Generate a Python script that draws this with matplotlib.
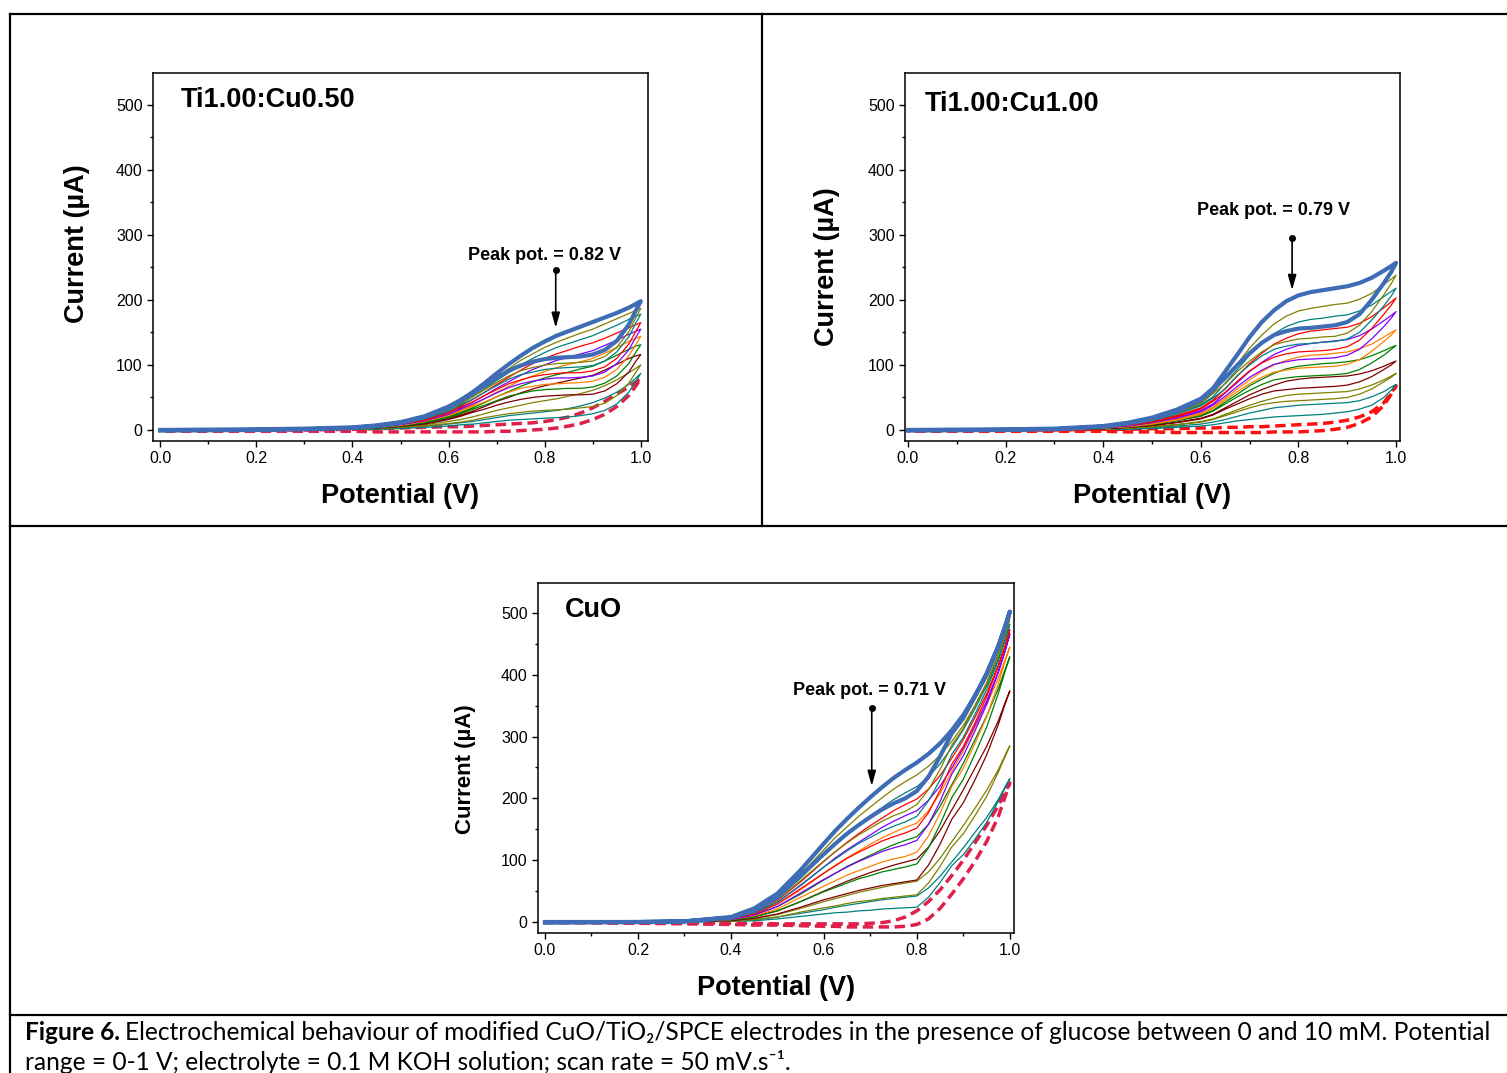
import numpy as np
import matplotlib.pyplot as plt
from matplotlib.lines import Line2D

plt.rcParams['font.family'] = ['Liberation Sans', 'DejaVu Sans']

# potential grid (V) used for every scan, forward and reverse
E = [0.0, 0.2, 0.3, 0.4, 0.45, 0.5, 0.55, 0.6, 0.625, 0.65, 0.675, 0.7, 0.725,
     0.75, 0.775, 0.8, 0.825, 0.85, 0.875, 0.9, 0.925, 0.95, 0.975, 0.99, 1.0]

# glucose concentration of each row (mM), blank first
conc = [0, 1, 2, 3, 4, 5, 6, 7, 8, 9, 10]

# ---- Ti1.00:Cu0.50, current in uA ----
a_fwd = [
    [0, 0, 0, 1, 2, 3, 4, 5, 5, 6, 7, 8, 9, 10, 11, 13, 16, 20, 26, 34, 44, 55, 66, 74, 79],
    [0, 0, 1, 1, 2, 4, 6, 9, 11, 13, 16, 19, 22, 24, 26, 28, 30, 33, 37, 42, 49, 58, 70, 80, 87],
    [0, 1, 1, 2, 3, 5, 8, 13, 16, 20, 25, 30, 34, 38, 42, 45, 48, 52, 56, 61, 68, 77, 88, 95, 100],
    [0, 1, 2, 2, 3, 6, 11, 18, 23, 29, 36, 44, 50, 57, 63, 68, 72, 76, 80, 84, 92, 101, 110, 114, 116],
    [0, 1, 2, 2, 4, 7, 12, 21, 27, 34, 42, 51, 59, 67, 74, 80, 85, 89, 94, 98, 106, 115, 124, 129, 131],
    [0, 1, 2, 3, 5, 8, 14, 24, 31, 38, 48, 58, 67, 76, 83, 90, 96, 101, 105, 110, 118, 127, 136, 141, 144],
    [0, 1, 2, 3, 5, 9, 16, 27, 34, 43, 53, 64, 74, 84, 93, 100, 107, 112, 117, 122, 130, 138, 147, 152, 155],
    [0, 1, 2, 3, 6, 10, 17, 29, 37, 47, 58, 70, 81, 92, 102, 110, 117, 123, 129, 134, 141, 149, 157, 162, 165],
    [0, 1, 2, 4, 6, 11, 18, 32, 40, 51, 63, 76, 88, 100, 110, 119, 127, 133, 139, 145, 153, 161, 170, 175, 178],
    [0, 1, 2, 4, 6, 11, 20, 34, 43, 54, 67, 81, 94, 107, 117, 127, 135, 142, 149, 155, 163, 171, 179, 184, 187],
    [0, 1, 2, 4, 7, 12, 21, 36, 46, 58, 72, 87, 101, 114, 126, 136, 145, 152, 159, 166, 173, 180, 188, 194, 198],
]
a_rev = [
    [-2, -2, -2, -2, -3, -3, -3, -3, -3, -3, -3, -2, -2, -1, 0, 1, 3, 6, 10, 16, 24, 36, 53, 68, 79],
    [-1, 0, 0, 1, 1, 2, 4, 6, 8, 9, 11, 13, 15, 16, 17, 18, 19, 20, 22, 25, 30, 40, 58, 75, 87],
    [-1, 0, 1, 1, 2, 4, 6, 10, 12, 15, 19, 22, 25, 27, 29, 30, 31, 32, 34, 36, 41, 53, 72, 89, 100],
    [-1, 0, 1, 2, 3, 5, 9, 16, 21, 27, 32, 38, 43, 47, 50, 52, 53, 54, 54, 55, 60, 71, 89, 106, 116],
    [-1, 0, 1, 2, 3, 6, 11, 19, 25, 32, 38, 45, 52, 56, 60, 62, 63, 64, 64, 66, 72, 83, 102, 120, 131],
    [-1, 0, 1, 2, 4, 7, 13, 22, 29, 36, 43, 51, 58, 64, 67, 70, 71, 72, 73, 75, 81, 93, 114, 132, 144],
    [-1, 0, 1, 2, 4, 8, 14, 24, 32, 40, 48, 57, 65, 71, 75, 78, 80, 80, 81, 83, 89, 102, 123, 143, 155],
    [-1, 0, 1, 3, 5, 9, 15, 26, 35, 43, 53, 62, 71, 77, 82, 85, 87, 88, 88, 91, 97, 110, 132, 152, 165],
    [-1, 0, 1, 3, 5, 9, 17, 29, 38, 47, 58, 68, 78, 85, 89, 93, 95, 96, 97, 99, 106, 120, 143, 165, 178],
    [-1, 0, 1, 3, 6, 10, 18, 31, 41, 51, 62, 73, 83, 91, 96, 100, 102, 103, 104, 106, 113, 127, 151, 173, 187],
    [-1, 0, 1, 3, 6, 11, 20, 34, 45, 56, 68, 80, 91, 99, 105, 109, 111, 112, 113, 116, 123, 137, 162, 184, 198],
]

# ---- Ti1.00:Cu1.00 ----
b_fwd = [
    [0, 0, 0, 1, 1, 2, 2, 3, 3, 4, 4, 5, 5, 6, 7, 8, 9, 10, 12, 15, 20, 28, 42, 57, 68],
    [0, 0, 1, 1, 2, 4, 6, 9, 12, 16, 21, 26, 30, 34, 36, 38, 39, 40, 41, 42, 45, 51, 59, 66, 70],
    [0, 1, 1, 2, 3, 5, 8, 13, 17, 24, 31, 38, 44, 49, 53, 55, 56, 57, 58, 59, 63, 69, 77, 83, 87],
    [0, 1, 2, 2, 4, 7, 12, 18, 24, 34, 44, 54, 62, 69, 75, 78, 80, 81, 82, 83, 86, 91, 98, 103, 106],
    [0, 1, 2, 3, 5, 9, 15, 23, 30, 43, 55, 68, 78, 87, 94, 98, 100, 102, 103, 105, 108, 114, 122, 127, 130],
    [0, 1, 2, 3, 6, 10, 17, 26, 35, 49, 63, 77, 90, 100, 107, 112, 115, 116, 118, 120, 125, 132, 143, 150, 154],
    [0, 1, 2, 4, 7, 12, 20, 30, 40, 57, 73, 90, 104, 116, 124, 130, 133, 135, 137, 139, 145, 155, 168, 176, 182],
    [0, 1, 2, 4, 8, 14, 22, 34, 46, 64, 83, 102, 118, 132, 141, 148, 152, 154, 156, 158, 164, 174, 188, 197, 203],
    [0, 1, 2, 5, 9, 15, 25, 39, 51, 72, 93, 115, 133, 148, 159, 166, 170, 172, 175, 177, 183, 192, 205, 213, 218],
    [0, 1, 2, 5, 10, 17, 27, 42, 57, 80, 102, 126, 146, 163, 175, 183, 187, 190, 193, 195, 201, 210, 224, 232, 238],
    [0, 1, 2, 6, 11, 19, 31, 48, 64, 90, 116, 143, 166, 184, 198, 207, 212, 215, 218, 221, 226, 234, 245, 252, 257],
]
b_rev = [
    [-2, -2, -2, -2, -3, -3, -4, -4, -4, -4, -4, -4, -4, -3, -3, -3, -2, -1, 1, 4, 10, 20, 38, 55, 68],
    [-1, 0, 0, 1, 1, 2, 4, 6, 8, 11, 14, 16, 18, 20, 21, 22, 23, 24, 26, 28, 32, 38, 50, 61, 70],
    [-1, 0, 1, 1, 3, 5, 8, 12, 16, 22, 28, 34, 39, 42, 44, 45, 46, 47, 48, 50, 55, 63, 74, 81, 87],
    [-1, 0, 1, 2, 4, 7, 11, 17, 23, 32, 40, 48, 55, 60, 62, 64, 65, 66, 67, 69, 74, 82, 93, 100, 106],
    [-1, 0, 1, 3, 5, 8, 14, 21, 29, 40, 51, 61, 70, 77, 80, 82, 83, 84, 85, 87, 93, 103, 115, 124, 130],
    [-1, 0, 1, 3, 5, 9, 15, 24, 33, 46, 59, 71, 81, 89, 92, 95, 96, 97, 98, 101, 108, 121, 136, 146, 154],
    [-1, 0, 1, 3, 6, 11, 18, 28, 38, 52, 67, 81, 92, 101, 105, 108, 109, 110, 111, 115, 124, 140, 159, 172, 182],
    [-1, 0, 1, 4, 7, 12, 20, 32, 44, 58, 75, 91, 103, 112, 117, 120, 121, 122, 124, 128, 138, 156, 178, 192, 203],
    [-1, 0, 1, 4, 8, 14, 24, 37, 49, 63, 84, 100, 114, 124, 129, 132, 133, 135, 136, 140, 150, 169, 191, 206, 218],
    [-1, 0, 1, 4, 9, 15, 25, 41, 56, 71, 90, 106, 120, 131, 136, 140, 141, 143, 144, 149, 161, 182, 208, 225, 238],
    [-1, 0, 1, 5, 10, 17, 28, 46, 62, 80, 100, 118, 134, 146, 152, 156, 157, 159, 161, 166, 178, 200, 226, 243, 257],
]

# ---- CuO ----
c_fwd = [
    [0, -1, -1, -2, -2, -3, -3, -3, -3, -3, -3, -2, -1, 2, 8, 18, 33, 52, 75, 100, 128, 156, 188, 210, 225],
    [0, 0, 0, 2, 4, 8, 14, 20, 24, 27, 30, 33, 36, 38, 40, 42, 55, 74, 97, 120, 145, 169, 198, 219, 232],
    [0, 0, 1, 2, 6, 12, 22, 33, 38, 43, 48, 52, 56, 60, 63, 66, 81, 103, 130, 156, 184, 213, 246, 270, 285],
    [0, 0, 1, 3, 9, 18, 33, 50, 58, 66, 73, 80, 86, 92, 97, 102, 121, 148, 181, 214, 249, 284, 325, 355, 374],
    [0, 0, 1, 4, 12, 25, 45, 68, 79, 90, 99, 108, 117, 125, 132, 138, 158, 187, 222, 257, 295, 333, 377, 409, 429],
    [0, 0, 1, 5, 14, 29, 52, 79, 92, 104, 115, 126, 136, 145, 153, 160, 180, 208, 243, 277, 314, 351, 394, 425, 445],
    [0, 0, 1, 6, 15, 32, 59, 89, 104, 117, 129, 141, 153, 163, 172, 180, 197, 220, 249, 281, 318, 357, 405, 440, 466],
    [0, 0, 1, 6, 17, 35, 65, 98, 114, 129, 143, 156, 168, 180, 190, 199, 215, 237, 265, 295, 331, 369, 415, 447, 473],
    [0, 0, 1, 7, 19, 39, 71, 108, 126, 142, 157, 172, 185, 198, 209, 219, 235, 256, 282, 311, 345, 382, 427, 458, 482],
    [0, 0, 1, 7, 20, 42, 77, 117, 137, 154, 171, 186, 201, 215, 227, 238, 252, 270, 292, 318, 350, 387, 433, 466, 491],
    [0, 0, 1, 8, 22, 46, 84, 127, 148, 167, 185, 202, 218, 233, 246, 258, 272, 289, 310, 335, 366, 402, 446, 478, 502],
]
c_rev = [
    [-1, -2, -3, -4, -5, -5, -6, -7, -7, -8, -8, -8, -8, -8, -7, -4, 5, 22, 45, 70, 98, 130, 170, 203, 225],
    [-1, 0, 0, 1, 2, 5, 9, 13, 15, 16, 18, 19, 21, 22, 23, 24, 40, 64, 91, 109, 134, 161, 195, 217, 232],
    [-1, 0, 1, 1, 4, 8, 16, 23, 26, 30, 33, 35, 38, 40, 42, 44, 63, 90, 121, 143, 172, 203, 242, 268, 285],
    [-1, 0, 1, 2, 6, 13, 24, 36, 41, 46, 51, 55, 59, 62, 65, 68, 92, 126, 166, 193, 230, 270, 319, 353, 374],
    [-1, 0, 1, 3, 8, 18, 33, 49, 56, 63, 70, 75, 81, 85, 89, 94, 120, 158, 201, 231, 272, 315, 369, 406, 429],
    [-1, 0, 1, 4, 10, 21, 40, 58, 67, 76, 83, 90, 97, 102, 106, 113, 139, 176, 219, 249, 289, 332, 385, 422, 445],
    [-1, 0, 1, 4, 11, 25, 47, 69, 79, 89, 98, 106, 114, 120, 125, 132, 158, 195, 239, 269, 309, 352, 403, 438, 466],
    [-1, 0, 1, 5, 13, 29, 54, 79, 91, 103, 113, 122, 131, 138, 144, 152, 177, 213, 255, 284, 322, 364, 413, 446, 473],
    [-1, 0, 1, 6, 15, 32, 60, 89, 102, 115, 127, 137, 147, 155, 162, 171, 196, 230, 271, 299, 336, 376, 422, 455, 482],
    [-1, 0, 1, 6, 16, 36, 67, 99, 114, 128, 141, 152, 163, 172, 179, 190, 214, 247, 286, 313, 350, 385, 430, 463, 491],
    [-1, 0, 1, 7, 18, 40, 75, 110, 127, 143, 157, 170, 182, 192, 200, 212, 235, 268, 305, 330, 365, 400, 445, 478, 502],
]

titles = ["Ti1.00:Cu0.50", "Ti1.00:Cu1.00", "CuO"]
peaks = ["Peak pot. = 0.82 V", "Peak pot. = 0.79 V", "Peak pot. = 0.71 V"]

# line colour per concentration (blank first)
colors = ['#E0204A', '#008080', '#808000', '#800000', '#008000', '#FF8000',
          '#8000FF', '#FF0000', '#008080', '#808000', '#3E6DB5']

W, H = 1507, 1073
fig = plt.figure(figsize=(W / 100, H / 100), dpi=100)


def px_rect(x0, y0, x1, y1):
    return [x0 / W, 1 - y1 / H, (x1 - x0) / W, (y1 - y0) / H]


def draw_cv(ax, fwd, rev, blank_color):
    for k in range(len(conc)):
        x = np.concatenate([E, E[::-1][1:]])
        y = np.concatenate([fwd[k], rev[k][::-1][1:]])
        if k == 0:
            ax.plot(x, y, color=blank_color, lw=2.5, ls=(0, (3, 1.6)), zorder=2)
        elif k == len(conc) - 1:
            ax.plot(x, y, color=colors[k], lw=3.0, zorder=4, solid_joinstyle='round')
        else:
            ax.plot(x, y, color=colors[k], lw=0.9, zorder=3, solid_joinstyle='round')


def style(ax, xlim, ylim, ylab_size, ylab_xy):
    ax.set_xlim(*xlim)
    ax.set_ylim(*ylim)
    ax.set_xticks([0.0, 0.2, 0.4, 0.6, 0.8, 1.0])
    ax.set_xticks([0.1, 0.3, 0.5, 0.7, 0.9], minor=True)
    ax.set_yticks([0, 100, 200, 300, 400, 500])
    ax.set_yticks([50, 150, 250, 350, 450], minor=True)
    ax.tick_params(which='major', direction='out', length=4, width=1, labelsize=11.5)
    ax.tick_params(which='minor', direction='out', length=2.5, width=1)
    for s in ax.spines.values():
        s.set_linewidth(1.1)
    ax.set_xlabel("Potential (V)", fontsize=19.5, fontweight='bold', labelpad=12)
    ax.set_ylabel("Current (\u00b5A)", fontsize=ylab_size, fontweight='bold')
    ax.yaxis.set_label_coords(*ylab_xy)


def peak_mark(ax, text, text_xy, x, y_dot, y_tip):
    ax.text(text_xy[0], text_xy[1], text, fontsize=13, fontweight='bold',
            ha='center', va='center')
    ax.plot([x], [y_dot], 'o', color='k', ms=4)
    ax.annotate('', xy=(x, y_tip), xytext=(x, y_dot),
                arrowprops=dict(arrowstyle='-|>,head_length=0.9,head_width=0.25',
                                color='k', lw=1.2, shrinkA=0, shrinkB=0))


ax1 = fig.add_axes(px_rect(153, 73, 648, 441))
draw_cv(ax1, a_fwd, a_rev, '#E0204A')
style(ax1, (-0.015, 1.015), (-17, 549), 19.5, (-0.127, 0.537))
ax1.text(0.057, 0.927, titles[0], transform=ax1.transAxes, fontsize=19.5,
         fontweight='bold', va='center')
peak_mark(ax1, peaks[0], (0.80, 268), 0.823, 246, 157)

ax2 = fig.add_axes(px_rect(905, 73, 1400, 441))
draw_cv(ax2, b_fwd, b_rev, '#FF1010')
style(ax2, (-0.006, 1.008), (-17, 549), 19.5, (-0.131, 0.474))
ax2.text(0.04, 0.916, titles[1], transform=ax2.transAxes, fontsize=19.5,
         fontweight='bold', va='center')
peak_mark(ax2, peaks[1], (0.748, 337), 0.787, 295, 215)

ax3 = fig.add_axes(px_rect(538, 583, 1014, 933))
draw_cv(ax3, c_fwd, c_rev, '#E0204A')
style(ax3, (-0.015, 1.009), (-17.8, 548.5), 16, (-0.130, 0.469))
ax3.text(0.057, 0.923, titles[2], transform=ax3.transAxes, fontsize=19.5,
         fontweight='bold', va='center')
peak_mark(ax3, peaks[2], (0.699, 374), 0.703, 346, 220)

# table frame around the panels
frame = [((10, 14), (1507, 14)), ((10, 14), (10, 1073)), ((762, 14), (762, 526)),
         ((10, 526), (1507, 526)), ((10, 1015), (1507, 1015))]
for (xa, ya), (xb, yb) in frame:
    fig.add_artist(Line2D([xa / W, xb / W], [1 - ya / H, 1 - yb / H],
                          transform=fig.transFigure, color='k', lw=1.6))

# caption
cap_font = ['Lato', 'DejaVu Sans']
line1 = ("Electrochemical behaviour of modified CuO/TiO\u2082/SPCE electrodes in the "
         "presence of glucose between 0 and 10 mM. Potential")
line2 = "range = 0-1 V; electrolyte = 0.1 M KOH solution; scan rate = 50 mV.s\u207b\u00b9."
fs = 14
t1 = fig.text(25 / W, 1 - 1033 / H, "Figure 6.", fontsize=fs, fontweight='bold',
              family=cap_font, va='center')
t2 = fig.text(0, 1 - 1033 / H, line1, fontsize=fs, family=cap_font, va='center')
fig.canvas.draw()
r = fig.canvas.get_renderer()
w1 = t1.get_window_extent(r).width
w2 = t2.get_window_extent(r).width
fs = fs * (1472 - 6) / (w1 + w2)
t1.set_fontsize(fs)
t2.set_fontsize(fs)
fig.canvas.draw()
w1 = t1.get_window_extent(r).width
t2.set_x((25 + w1 + 5) / W)
fig.text(25 / W, 1 - 1062 / H, line2, fontsize=fs, family=cap_font, va='center')

fig.savefig("out.png", dpi=100)
